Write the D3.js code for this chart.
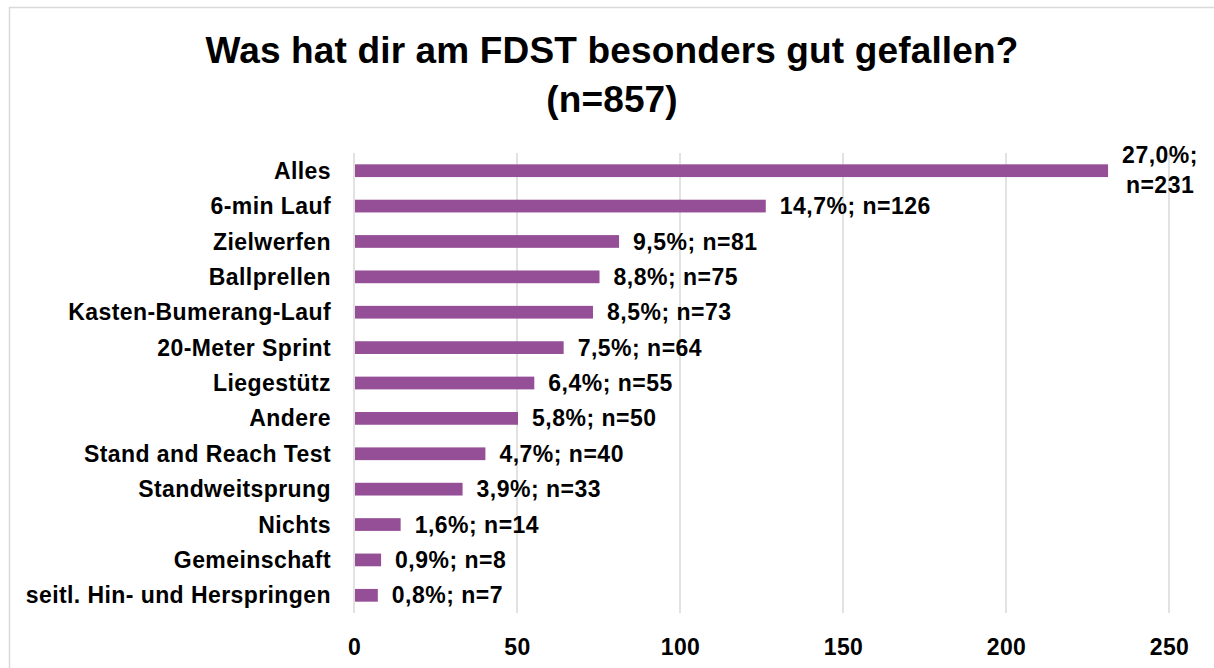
<!DOCTYPE html>
<html>
<head>
<meta charset="utf-8">
<script src="https://cdn.jsdelivr.net/npm/d3@7"></script>
<style>
  body { margin: 0; background: #fff; }
  text { font-family: "Liberation Sans", Arial, Helvetica, sans-serif; font-weight: bold; fill: #000; }
</style>
</head>
<body>
<script>
// Data
const categories = ["Alles", "6-min Lauf", "Zielwerfen", "Ballprellen", "Kasten-Bumerang-Lauf",
  "20-Meter Sprint", "Liegestütz", "Andere ", "Stand and Reach Test", "Standweitsprung",
  "Nichts", "Gemeinschaft", "seitl. Hin- und Herspringen"];
const counts = [231, 126, 81, 75, 73, 64, 55, 50, 40, 33, 14, 8, 7];
const percents = ["27,0%", "14,7%", "9,5%", "8,8%", "8,5%", "7,5%", "6,4%", "5,8%", "4,7%", "3,9%", "1,6%", "0,9%", "0,8%"];
const xTicks = [0, 50, 100, 150, 200, 250];
const titleLines = ["Was hat dir am FDST besonders gut gefallen?", "(n=857)"];

const W = 1214, H = 668;
const margin = { top: 153, left: 354 };

const rows = categories.map((c, i) => ({ cat: c, n: counts[i], pct: percents[i] }));

const svg = d3.select("body").append("svg")
  .attr("width", W)
  .attr("height", H);

// chart frame
svg.append("rect")
  .attr("x", 9.5).attr("y", 7.5)
  .attr("width", W + 20).attr("height", H + 20)
  .attr("fill", "none")
  .attr("stroke", "#d9d9d9")
  .attr("stroke-width", 1.5);

// title
svg.append("text")
  .attr("text-anchor", "middle")
  .style("font-size", "37px")
  .style("letter-spacing", "0.15px")
  .selectAll("tspan")
  .data(titleLines)
  .enter().append("tspan")
  .attr("x", 612)
  .attr("y", (d, i) => 63 + i * 49)
  .text(d => d);

const g = svg.append("g")
  .attr("transform", "translate(" + margin.left + "," + margin.top + ")");

const x = d3.scaleLinear().domain([0, 250]).range([0, 815]);
const y = d3.scaleBand().domain(categories).range([0, 460]).paddingInner(0.64).paddingOuter(0.32);

// gridlines
g.selectAll(".grid")
  .data(xTicks)
  .enter().append("line")
  .attr("class", "grid")
  .attr("x1", d => x(d)).attr("x2", d => x(d))
  .attr("y1", 0).attr("y2", 460)
  .attr("stroke", "#d9d9d9")
  .attr("stroke-width", 1.5);

// x axis
const xAxis = d3.axisBottom(x).tickValues(xTicks).tickSize(0).tickPadding(0);
const ax = g.append("g")
  .attr("transform", "translate(0,484)")
  .call(xAxis);
ax.select(".domain").remove();
ax.selectAll("text")
  .attr("dy", 0)
  .attr("y", 18)
  .style("font-size", "23px")
  .style("letter-spacing", "0.4px")
  .style("font-family", "'Liberation Sans', Arial, sans-serif")
  .style("font-weight", "bold")
  .attr("fill", "#000");

// y axis labels
const yAxis = d3.axisLeft(y).tickSize(0).tickPadding(23);
const ay = g.append("g").call(yAxis);
ay.select(".domain").remove();
ay.selectAll("text")
  .attr("dy", "0.35em")
  .style("font-size", "23px")
  .style("letter-spacing", "0.42px")
  .style("font-family", "'Liberation Sans', Arial, sans-serif")
  .style("font-weight", "bold")
  .attr("fill", "#000");

// bars
g.selectAll(".bar")
  .data(rows)
  .enter().append("rect")
  .attr("class", "bar")
  .attr("x", x(0) + 1)
  .attr("y", d => y(d.cat))
  .attr("width", d => x(d.n) - x(0))
  .attr("height", y.bandwidth())
  .attr("fill", "#954f97");

// value labels
g.selectAll(".val")
  .data(rows.slice(1))
  .enter().append("text")
  .attr("class", "val")
  .attr("x", d => x(d.n) + 15)
  .attr("y", d => y(d.cat) + y.bandwidth() / 2)
  .attr("dy", "0.35em")
  .style("font-size", "23px")
  .style("letter-spacing", "0.5px")
  .text(d => d.pct + "; n=" + d.n);

// first label wraps onto two lines
const first = rows[0];
const firstLabel = g.append("text")
  .attr("text-anchor", "middle")
  .style("font-size", "23px")
  .style("letter-spacing", "0.5px");
firstLabel.append("tspan")
  .attr("x", x(first.n) + 53)
  .attr("y", y(first.cat) - 1)
  .text(first.pct + ";");
firstLabel.append("tspan")
  .attr("x", x(first.n) + 53)
  .attr("y", y(first.cat) + 29)
  .text("n=" + first.n);
</script>
</body>
</html>
